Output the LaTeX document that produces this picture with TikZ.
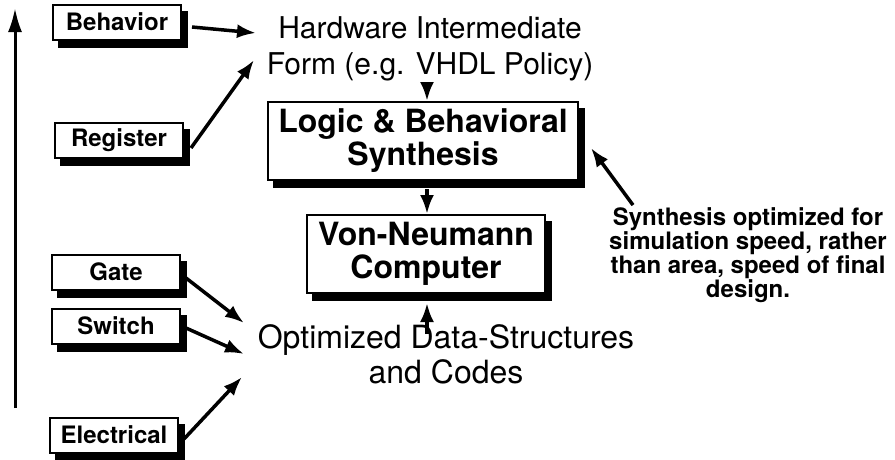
\documentclass[tikz,border=0pt]{standalone}
\usepackage{fontspec}
\setmainfont{TeX Gyre Heros}
\usetikzlibrary{arrows.meta,backgrounds,positioning}
\tikzset{
  level/.style={draw, line width=2pt, fill=white, minimum width=128pt,
    minimum height=35pt, inner sep=0pt,
    font=\fontsize{24}{26}\selectfont\bfseries},
  stage/.style={level, align=center,
    font=\fontsize{32}{33}\selectfont\bfseries},
  phrase/.style={align=center, inner sep=0pt,
    font=\fontsize{30}{36}\selectfont},
  flow/.style={line width=3.5pt, -{Latex[length=19pt,width=14pt]}}
}
\begin{document}
\begin{tikzpicture}[x=1pt, y=-1pt]
  \useasboundingbox (0, 0) rectangle (895, 459);

  % abstraction axis
  \coordinate (axisbot) at (15, 408);
  \coordinate (axistop) at (15, 8);
  \draw [flow, line width=3pt, -{Latex[length=24pt,width=14pt]}] (axisbot) -- (axistop);

  % levels
  \node [level] (behavior) at (117, 22) {Behavior};
  \node [level] (register) at (119, 140) {Register};
  \node [level] (gate) at (116, 272) {Gate};
  \node [level] (switch) at (116, 326) {Switch};
  \node [level] (electrical) at (114, 435) {Electrical};

  % main column
  \node [phrase] (hif) at (430, 49) {Hardware Intermediate\\Form (e.g. VHDL Policy)};
  \node [stage, minimum width=310pt, minimum height=78pt] (logic) at (423, 141)
    {Logic \& Behavioral\\Synthesis};
  \node [stage, minimum width=238pt, minimum height=78pt] (vn) at (426, 254)
    {Von-Neumann\\Computer};
  \node [phrase, font=\fontsize{32}{35}\selectfont] (ods) at (446, 354)
    {Optimized Data-Structures\\and Codes};

  \node [align=center, inner sep=0pt,
    font=\fontsize{24}{23}\selectfont\bfseries] (note) at (748, 255)
    {Synthesis optimized for\\simulation speed, rather\\than area, speed of final\\design.};

  % shadows
  \begin{scope}[on background layer]
    \foreach \n in {behavior, register, gate, switch, electrical, logic, vn}
      \fill ([xshift=6pt, yshift=-7pt]\n.south west) rectangle
            ([xshift=6pt, yshift=-7pt]\n.north east);
  \end{scope}

  % arrival points
  \coordinate (hifa) at (256, 33);
  \coordinate (hifb) at (254, 60);
  \coordinate (odsa) at (244, 323);
  \coordinate (odsb) at (244, 354);
  \coordinate (odsc) at (242, 377);
  \coordinate (odstop) at (427, 334);

  \draw [flow] ([xshift=10pt, yshift=-5pt]behavior.east) -- (hifa);
  \draw [flow] ([xshift=7pt, yshift=-8pt]register.east) -- (hifb);
  \draw [flow] ([xshift=5pt, yshift=-6pt]gate.east) -- (odsa);
  \draw [flow] ([xshift=5pt, yshift=-2pt]switch.east) -- (odsb);
  \draw [flow] ([xshift=5pt, yshift=-4pt]electrical.east) -- (odsc);

  \draw [flow] ([xshift=-3pt, yshift=-2pt]hif.south) -- ([xshift=4pt]logic.north);
  \draw [flow] ([xshift=4pt, yshift=-8pt]logic.south) -- ([xshift=1pt]vn.north);
  \draw [flow] (odstop) -- ([xshift=1pt, yshift=-9pt]vn.south);
  \draw [flow] ([xshift=-115pt, yshift=2pt]note.north) -- ([xshift=12pt, yshift=-7pt]logic.east);
\end{tikzpicture}
\end{document}
